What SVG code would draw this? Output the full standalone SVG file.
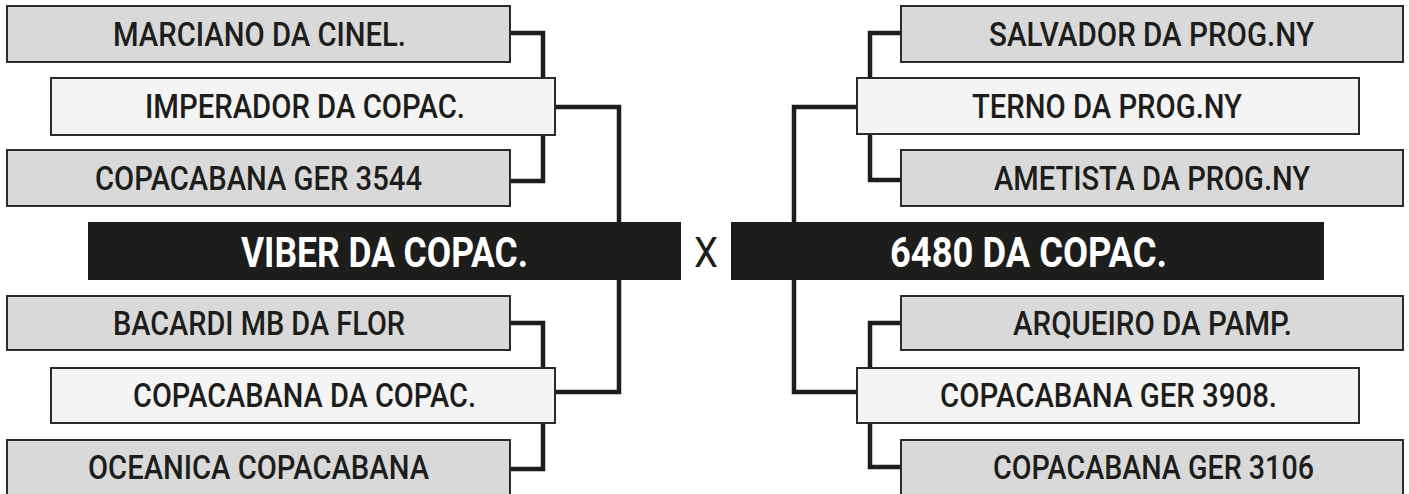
<svg xmlns="http://www.w3.org/2000/svg" width="1409" height="494" viewBox="0 0 1409 494">
<style>
.g{fill:#d9d9d9;stroke:#2b2b2b;stroke-width:2}
.l{fill:#f4f4f4;stroke:#2b2b2b;stroke-width:2}
.b{fill:#1d1d1b}
.t{font-family:Roboto,"Liberation Sans",sans-serif;font-weight:500;font-size:33px;fill:#1d1d1b}
.w{font-family:Roboto,"Liberation Sans",sans-serif;font-weight:700;font-size:42px;fill:#ffffff}
.x{font-family:Roboto,"Liberation Sans",sans-serif;font-weight:400;font-size:42px;fill:#1d1d1b}
.c{fill:none;stroke:#1d1d1b;stroke-width:4.5;stroke-linejoin:miter}
</style>
<rect width="1409" height="494" fill="#ffffff"/>
<g id="connectors">
<path class="c" d="M510 33H543V78"/>
<path class="c" d="M543 135V181H510"/>
<path class="c" d="M555 107H619V392H555"/>
<path class="c" d="M510 323H543V368"/>
<path class="c" d="M543 423V469H510"/>
<path class="c" d="M901 33H870V78"/>
<path class="c" d="M870 135V180H901"/>
<path class="c" d="M857 107H794V392H857"/>
<path class="c" d="M901 323H870V368"/>
<path class="c" d="M870 423V467H901"/>
</g>
<g id="n-marciano"><rect class="g" x="7" y="6" width="503" height="56"/><text class="t" x="113" y="46" textLength="293" lengthAdjust="spacingAndGlyphs">MARCIANO DA CINEL.</text></g>
<g id="n-imperador"><rect class="l" x="51" y="78" width="504" height="57"/><text class="t" x="145" y="118" textLength="320" lengthAdjust="spacingAndGlyphs">IMPERADOR DA COPAC.</text></g>
<g id="n-ger3544"><rect class="g" x="7" y="150" width="503" height="56"/><text class="t" x="95" y="190" textLength="327" lengthAdjust="spacingAndGlyphs">COPACABANA GER 3544</text></g>
<g id="n-viber"><rect class="b" x="88" y="222" width="593" height="58"/><text class="w" x="241" y="267" textLength="287" lengthAdjust="spacingAndGlyphs">VIBER DA COPAC.</text></g>
<g id="n-x"><text class="x" x="694" y="267" textLength="24" lengthAdjust="spacingAndGlyphs">X</text></g>
<g id="n-bacardi"><rect class="g" x="7" y="296" width="503" height="54"/><text class="t" x="113" y="335" textLength="292" lengthAdjust="spacingAndGlyphs">BACARDI MB DA FLOR</text></g>
<g id="n-copacopac"><rect class="l" x="51" y="368" width="504" height="55"/><text class="t" x="133" y="407" textLength="343" lengthAdjust="spacingAndGlyphs">COPACABANA DA COPAC.</text></g>
<g id="n-oceanica"><rect class="g" x="7" y="440" width="503" height="56"/><text class="t" x="88" y="479" textLength="341" lengthAdjust="spacingAndGlyphs">OCEANICA COPACABANA</text></g>
<g id="n-salvador"><rect class="g" x="901" y="6" width="502" height="56"/><text class="t" x="989" y="46" textLength="325" lengthAdjust="spacingAndGlyphs">SALVADOR DA PROG.NY</text></g>
<g id="n-terno"><rect class="l" x="857" y="78" width="502" height="56"/><text class="t" x="972" y="118" textLength="270" lengthAdjust="spacingAndGlyphs">TERNO DA PROG.NY</text></g>
<g id="n-ametista"><rect class="g" x="901" y="150" width="502" height="56"/><text class="t" x="994" y="190" textLength="316" lengthAdjust="spacingAndGlyphs">AMETISTA DA PROG.NY</text></g>
<g id="n-6480"><rect class="b" x="731" y="222" width="593" height="58"/><text class="w" x="890" y="267" textLength="277" lengthAdjust="spacingAndGlyphs">6480 DA COPAC.</text></g>
<g id="n-arqueiro"><rect class="g" x="901" y="296" width="502" height="54"/><text class="t" x="1013" y="335" textLength="279" lengthAdjust="spacingAndGlyphs">ARQUEIRO DA PAMP.</text></g>
<g id="n-ger3908"><rect class="l" x="857" y="368" width="502" height="55"/><text class="t" x="940" y="407" textLength="337" lengthAdjust="spacingAndGlyphs">COPACABANA GER 3908.</text></g>
<g id="n-ger3106"><rect class="g" x="901" y="440" width="502" height="56"/><text class="t" x="993" y="479" textLength="321" lengthAdjust="spacingAndGlyphs">COPACABANA GER 3106</text></g>
</svg>
